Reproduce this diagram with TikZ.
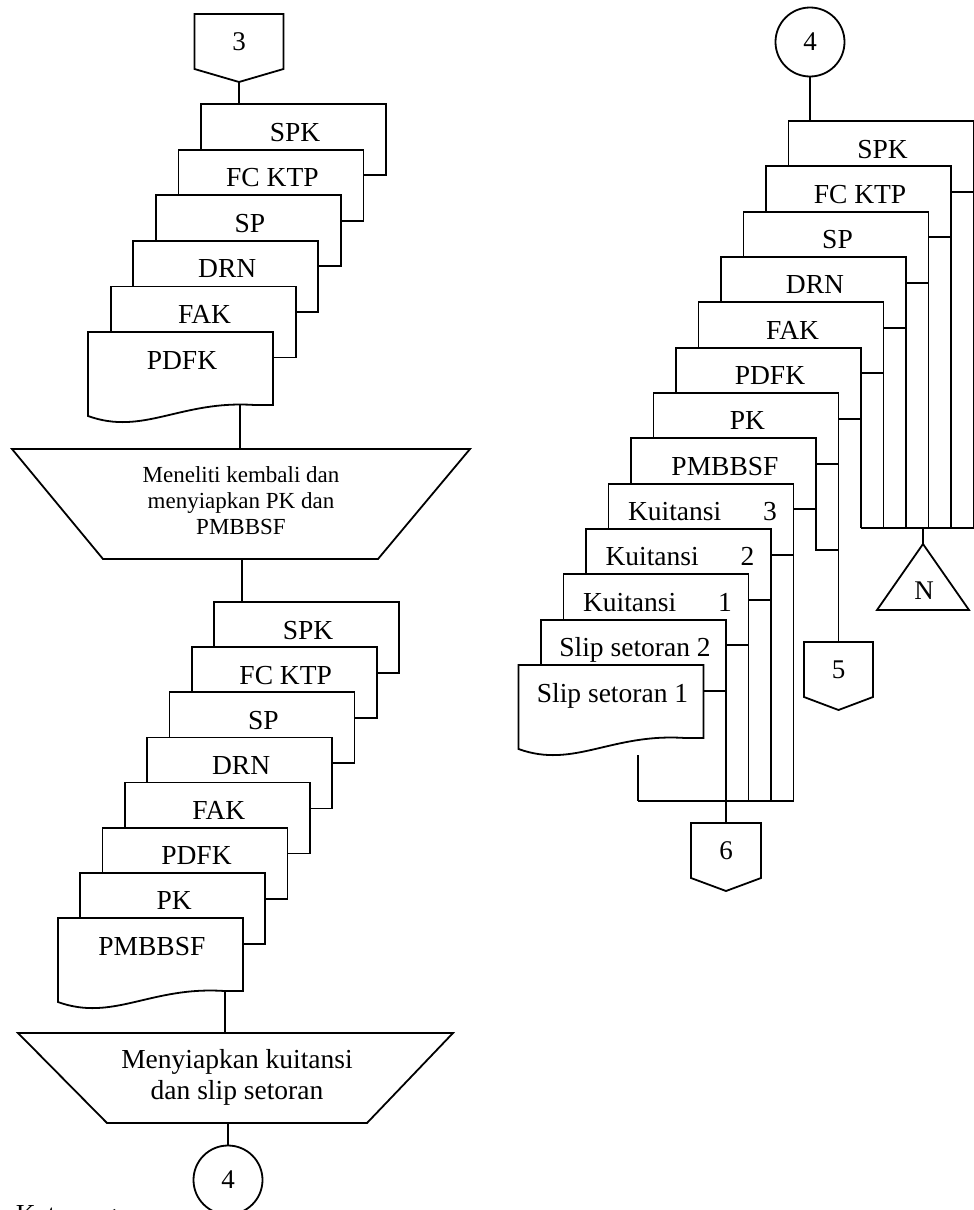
\documentclass[tikz,border=0pt]{standalone}
\usepackage{fontspec}
\setmainfont{Liberation Serif}

% a sheet lying behind the others in a stack: left edge, top edge, label
\newcommand\backsheet[3]{%
  \draw[sheet] (#1,#2) rectangle ({#1+185},{#2+71});
  \node[label] at ({#1+94},{#2+37}) {#3};}
% the front sheet of a stack, with its wavy lower edge
\newcommand\frontsheet[3]{%
  \draw[sheet] (#1,#2) -- ({#1+185},#2) -- ({#1+185},{#2+73}) -- ({#1+166.5},{#2+73})
    .. controls ({#1+92.5},{#2+68}) and ({#1+55.5},{#2+104}) .. (#1,{#2+84}) -- cycle;
  \node[label] at ({#1+94},{#2+37}) {#3};}
% off-page connector: name, centre x, top y, half width, label
\newcommand\offpage[5]{%
  \draw[sheet] ({#2-#4},#3) -- ({#2+#4},#3) -- ({#2+#4},{#3+55}) -- (#2,{#3+68})
    -- ({#2-#4},{#3+55}) -- cycle;
  \node[digit] (#1) at (#2,{#3+28}) {#5};
  \coordinate (#1-top) at (#2,#3);
  \coordinate (#1-tip) at (#2,{#3+68});}

\begin{document}
\begin{tikzpicture}[x=0.5pt,y=-0.5pt,line width=0.9pt,line join=miter,
  sheet/.style={draw,fill=white},
  label/.style={font=\fontsize{13.75}{16}\selectfont,inner sep=0pt,anchor=base},
  digit/.style={font=\fontsize{13.5}{16}\selectfont,inner sep=0pt},
  onpage/.style={circle,draw,fill=white,minimum size=34.5pt,inner sep=0pt,
    font=\fontsize{13.5}{16}\selectfont},
  procA/.style={align=center,inner sep=0pt,font=\fontsize{11.5}{13}\selectfont},
  procB/.style={align=center,inner sep=0pt,font=\fontsize{13.75}{15.5}\selectfont}]
\fill[white] (0,0) rectangle (974,1210);
\useasboundingbox (0,0) rectangle (974,1210);

% ---------------- left column ----------------
\offpage{c3}{239}{14}{44.5}{3}
\coordinate (s1-in) at (239,104);
\draw (c3-tip) -- (s1-in);

\foreach \i/\lab in {0/SPK,1/FC KTP,2/SP,3/DRN,4/FAK}{
  \pgfmathsetmacro\L{201-22.6*\i}\pgfmathsetmacro\T{104+45.6*\i}
  \backsheet{\L}{\T}{\lab}}
\frontsheet{88}{332}{PDFK}

% manual operation 1
\draw (12,449) -- (470,449) -- (378,559) -- (103,559) -- cycle;
\node[procA] (t1) at (241,501) {Meneliti kembali dan\\menyiapkan PK dan\\PMBBSF};
\coordinate (s1-out) at (240,405);
\coordinate (t1-in) at (240,449);
\coordinate (t1-out) at (242,559);
\coordinate (s2-in) at (242,602);
\draw (s1-out) -- (t1-in);
\draw (t1-out) -- (s2-in);

\foreach \i/\lab in {0/SPK,1/FC KTP,2/SP,3/DRN,4/FAK,5/PDFK,6/PK}{
  \pgfmathsetmacro\L{214-22.3*\i}\pgfmathsetmacro\T{602+45.14*\i}
  \backsheet{\L}{\T}{\lab}}
\frontsheet{57.9}{918}{PMBBSF}

% manual operation 2
\draw (18,1033) -- (453,1033) -- (367,1123) -- (107,1123) -- cycle;
\node[procB] (t2) at (237,1077.5) {Menyiapkan kuitansi\\dan slip setoran};
\coordinate (s2-out) at (225,991);
\coordinate (t2-in) at (225,1033);
\coordinate (t2-out) at (228,1123);
\draw (s2-out) -- (t2-in);
\node[onpage] (c4a) at (228,1180) {4};
\draw (t2-out) -- (c4a.north);

\node[label,anchor=base west] (ket) at (15,1223) {Keterangan:};

% ---------------- right column ----------------
\node[onpage] (c4b) at (810,42) {4};
\coordinate (s3-in) at (810,121);
\draw (c4b.south) -- (s3-in);

% flow lines leaving the right edges of the sheets
\coordinate (busN-l) at (861,528);
\coordinate (busN-r) at (973.5,528);
\coordinate (busS-l) at (638,801);
\coordinate (busS-r) at (793.5,801);
\foreach \i in {0,...,5}{
  \pgfmathsetmacro\R{973.5-22.5*\i}\pgfmathsetmacro\T{121+45.33*\i}
  \draw (\R,\T) -- (\R,528);}
\draw (busN-l) -- (busN-r);

\offpage{c5}{838.5}{642}{34.5}{5}
\coordinate (r6) at (838.5,393);
\draw (r6) -- (c5-top);
\coordinate (r7) at (816,438);
\draw (r7) -- (816,550) -- (r6 |- 0,550);

\foreach \i in {8,...,11}{
  \pgfmathsetmacro\R{973.5-22.5*\i}\pgfmathsetmacro\T{121+45.33*\i}
  \draw (\R,\T) -- (\R,801);}
\draw (busS-l) -- (busS-r);
\coordinate (slip-out) at (638,755);
\draw (slip-out) -- (busS-l);

\offpage{c6}{726}{823}{35}{6}
\draw (726,801) -- (c6-top);

% archive
\coordinate (arsip-top) at (923,544);
\draw (923,544) -- (969,610) -- (877,610) -- cycle;
\node[digit] (arsip) at (924,591) {N};
\draw (busN-l -| arsip-top) -- (arsip-top);

% the stack of sheets
\foreach \i/\lab in {0/SPK,1/FC KTP,2/SP,3/DRN,4/FAK,5/PDFK,6/PK,7/PMBBSF,
    8/Kuitansi\hspace{21pt}3,9/Kuitansi\hspace{21pt}2,10/Kuitansi\hspace{21pt}1,
    11/Slip setoran 2}{
  \pgfmathsetmacro\L{788.5-22.5*\i}\pgfmathsetmacro\T{121+45.33*\i}
  \backsheet{\L}{\T}{\lab}}
\frontsheet{518.5}{665}{Slip setoran 1}
\end{tikzpicture}
\end{document}
